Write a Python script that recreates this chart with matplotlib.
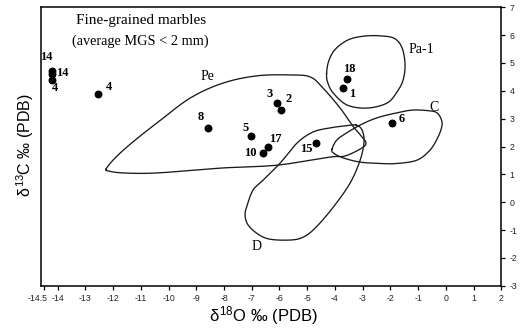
import numpy as np
import matplotlib
matplotlib.use("Agg")
import matplotlib.pyplot as plt
import matplotlib.transforms as mtransforms

plt.rcParams['mathtext.fontset'] = 'custom'
plt.rcParams['mathtext.rm'] = 'Liberation Sans'
plt.rcParams['mathtext.it'] = 'Liberation Sans'

# ---- sample points ----
pt_labels = ["14", "14", "4", "4", "8", "5", "3", "2", "18", "1", "6", "17", "10", "15"]
pt_x = [-14.19, -14.19, -14.21, -12.56, -8.58, -7.03, -6.09, -5.95, -3.57, -3.69, -1.95, -6.43, -6.60, -4.68]
pt_y = [4.73, 4.59, 4.39, 3.88, 2.68, 2.38, 3.55, 3.31, 4.42, 4.09, 2.83, 1.99, 1.76, 2.14]

# ---- field outlines (δ18O, δ13C) ----
pe_x = [-12.25, -12.03, -11.63, -11.02, -10.41, -9.22, -8.03, -6.80, -5.61, -4.89, -4.43, -3.81,
        -3.38, -3.02, -2.88, -3.02, -3.63, -4.17, -6.08, -8.03, -10.41, -11.63, -12.17]
pe_y = [1.19, 1.48, 1.87, 2.38, 2.85, 3.74, 4.28, 4.54, 4.57, 4.50, 4.10, 3.38,
        2.77, 2.34, 2.13, 1.95, 1.66, 1.62, 1.33, 1.23, 1.05, 1.05, 1.12]

d_x = [-3.24, -3.02, -2.95, -3.09, -3.45, -4.06, -4.71, -5.15, -5.61, -6.34, -6.77, -7.13,
       -7.24, -7.16, -6.95, -6.59, -5.97, -5.36, -4.79, -4.17, -3.63]
d_y = [2.77, 2.59, 2.16, 1.51, 0.69, -0.18, -0.93, -1.26, -1.36, -1.33, -1.15, -0.82,
       -0.46, -0.10, 0.44, 0.79, 1.41, 2.13, 2.52, 2.67, 2.74]

pa_x = [-4.30, -4.22, -3.98, -3.50, -2.90, -2.30, -1.85, -1.58, -1.47, -1.54, -1.76, -2.12,
        -2.84, -3.56, -4.06, -4.26]
pa_y = [4.62, 5.08, 5.50, 5.84, 5.97, 5.97, 5.88, 5.55, 4.95, 4.39, 3.96, 3.56,
        3.38, 3.49, 3.92, 4.30]

c_x = [-4.10, -3.96, -3.70, -3.09, -2.48, -1.76, -1.18, -0.57, -0.32, -0.17, -0.14, -0.28,
       -0.57, -1.04, -1.76, -2.37, -3.09, -3.70, -4.06]
c_y = [1.91, 2.20, 2.41, 2.77, 3.03, 3.21, 3.31, 3.28, 3.21, 2.99, 2.74, 2.34,
       1.87, 1.51, 1.39, 1.39, 1.44, 1.59, 1.77]

field_names = ["Pe", "Pa-1", "C", "D"]
field_lab_x = [-8.59, -0.87, -0.43, -6.81]
field_lab_y = [4.51, 5.47, 3.41, -1.60]

x_ticks = [-14.5, -14, -13, -12, -11, -10, -9, -8, -7, -6, -5, -4, -3, -2, -1, 0, 1, 2]
y_ticks = [-3, -2, -1, 0, 1, 2, 3, 4, 5, 6, 7]

# label offsets in pixels (dx, dy)
lab_off = [(-6, 14), (10, 1), (3, -8), (11, 7), (-7, 11), (-5, 8), (-7, 9), (8, 11),
           (2, 10), (9, -6), (10, 4), (8, 8), (-13, 0), (-10, -6)]


def closed_spline(xs, ys, n=24):
    P = np.column_stack([xs, ys]).astype(float)
    N = len(P)
    t = np.linspace(0, 1, n, endpoint=False)[:, None]
    segs = []
    for i in range(N):
        p0, p1, p2, p3 = P[(i - 1) % N], P[i], P[(i + 1) % N], P[(i + 2) % N]
        segs.append(0.5 * (2 * p1 + (-p0 + p2) * t + (2 * p0 - 5 * p1 + 4 * p2 - p3) * t ** 2
                           + (-p0 + 3 * p1 - 3 * p2 + p3) * t ** 3))
    segs.append(P[:1])
    out = np.vstack(segs)
    return out[:, 0], out[:, 1]


fig = plt.figure(figsize=(5.22, 3.29), dpi=100)
ax = fig.add_axes([0.0785, 0.1316, 0.8818, 0.8462])
ax.set_xlim(-14.6, 2)
ax.set_ylim(-3, 7)

for xs, ys in [(pe_x, pe_y), (d_x, d_y), (pa_x, pa_y), (c_x, c_y)]:
    sx, sy = closed_spline(xs, ys)
    ax.plot(sx, sy, color="#1a1a1a", lw=0.95)

ax.scatter(pt_x, pt_y, s=22, color="black", zorder=3)
for lab, x, y, (dx, dy) in zip(pt_labels, pt_x, pt_y, lab_off):
    ax.annotate(lab, (x, y), xytext=(dx, dy), textcoords="offset pixels",
                ha="center", va="center", fontsize=9, fontweight="bold",
                family="Liberation Serif")

for name, x, y in zip(field_names, field_lab_x, field_lab_y):
    ax.text(x, y, name, ha="center", va="center", fontsize=10, family="Liberation Serif")

ax.text(-11.0, 6.53, "Fine-grained marbles", ha="center", va="center", fontsize=11,
        family="Liberation Serif")
ax.text(-11.0, 5.79, "(average MGS < 2 mm)", ha="center", va="center", fontsize=10.3,
        family="Liberation Serif")

ax.set_xticks(x_ticks)
ax.set_xticklabels([f"{v:g}" for v in x_ticks], family="Liberation Sans", fontsize=6.3,
                   color="#222222")
ax.yaxis.tick_right()
ax.set_yticks(y_ticks)
ax.set_yticklabels([f"{v:g}" for v in y_ticks], family="Liberation Sans", fontsize=6.3,
                   color="#222222")
ax.tick_params(axis="both", direction="out", length=3, width=0.9, pad=3)
ax.tick_params(axis="y", right=True, left=False)
for s in ax.spines.values():
    s.set_linewidth(1.1)

# nudge the first x tick label left so it does not collide with "-14"
first = ax.get_xticklabels()[0]
first.set_horizontalalignment("right")
first.set_transform(first.get_transform() + mtransforms.ScaledTranslation(4 / 100, 0, fig.dpi_scale_trans))

fig.text(0.505, 0.042, r"$\delta^{18}$O ‰ (PDB)", ha="center", va="center", fontsize=12,
         family="Liberation Sans")
fig.text(0.048, 0.56, r"$\delta^{13}$C ‰ (PDB)", ha="center", va="center", fontsize=11.5,
         family="Liberation Sans", rotation=90)

fig.savefig("out.png", dpi=100)
